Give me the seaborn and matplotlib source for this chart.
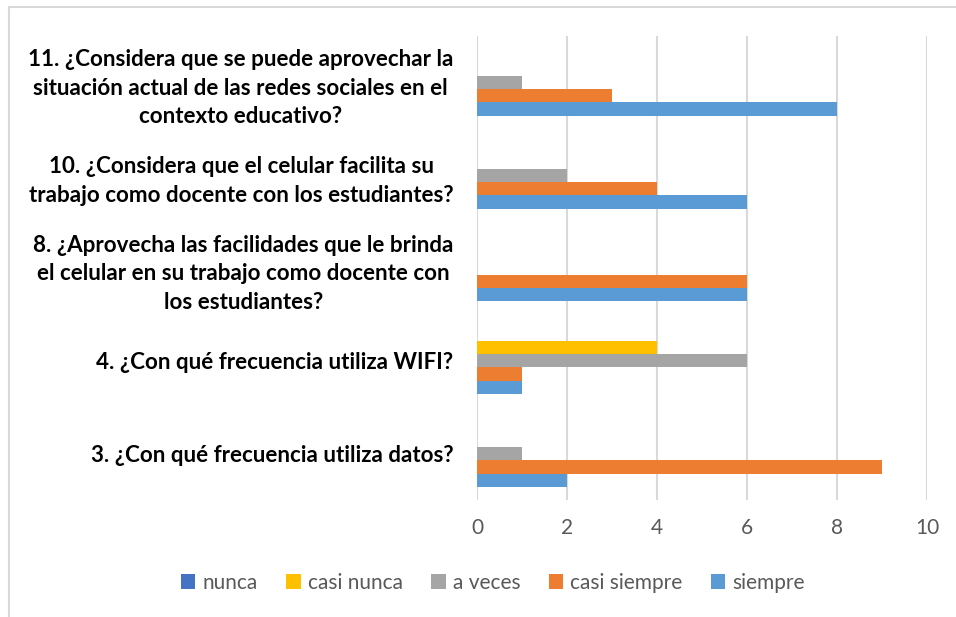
import matplotlib
matplotlib.use("Agg")
import matplotlib.pyplot as plt
import seaborn as sns
import pandas as pd
from matplotlib.patches import Rectangle, Patch

categories = [
    "11. ¿Considera que se puede aprovechar la\nsituación actual de las redes sociales en el\ncontexto educativo?",
    "10. ¿Considera que el celular facilita su\ntrabajo como docente con los estudiantes?",
    "8. ¿Aprovecha las facilidades que le brinda\nel celular en su trabajo como docente con\nlos estudiantes?",
    "4. ¿Con qué frecuencia utiliza WIFI?",
    "3. ¿Con qué frecuencia utiliza datos?",
]
series_names = ["nunca", "casi nunca", "a veces", "casi siempre", "siempre"]
nunca = [0, 0, 0, 0, 0]
casi_nunca = [0, 0, 0, 4, 0]
a_veces = [1, 2, 0, 6, 1]
casi_siempre = [3, 4, 6, 1, 9]
siempre = [8, 6, 6, 1, 2]
x_ticks = [0, 2, 4, 6, 8, 10]

colors = ["#4472C4", "#FFC000", "#A5A5A5", "#ED7D31", "#5B9BD5"]

rows = []
for name, vals in zip(series_names, [nunca, casi_nunca, a_veces, casi_siempre, siempre]):
    for cat, v in zip(categories, vals):
        rows.append({"pregunta": cat, "serie": name, "valor": v})
df = pd.DataFrame(rows)

sns.set_style("white")
plt.rcParams["font.family"] = ["Lato", "DejaVu Sans"]

fig = plt.figure(figsize=(9.56, 6.17), dpi=100)
ax = fig.add_axes([477 / 956, 1 - 500 / 617, 450 / 956, 464 / 617])

sns.barplot(data=df, y="pregunta", x="valor", hue="serie", order=categories,
            hue_order=series_names, palette=colors, orient="h", width=0.72,
            saturation=1, linewidth=0, ax=ax, legend=False, errorbar=None)

ax.set_xlim(0, 10)
ax.set_xticks(x_ticks)
ax.set_xticklabels([str(t) for t in x_ticks])
ax.grid(axis="x", color="#D9D9D9", linewidth=1.5)
ax.set_axisbelow(True)
for s in ax.spines.values():
    s.set_visible(False)
ax.set_xlabel("")
ax.set_ylabel("")
ax.tick_params(axis="x", length=0, pad=13, labelsize=15, labelcolor="#595959")
ax.tick_params(axis="y", length=0, pad=17)
for lbl in ax.get_yticklabels():
    lbl.set_fontweight("bold")
    lbl.set_fontsize(16.1)
    lbl.set_color("black")
    lbl.set_multialignment("center")
    lbl.set_linespacing(1.45)

handles = [Patch(facecolor=c, edgecolor="none") for c in colors]
fig.legend(handles, series_names, loc="center", bbox_to_anchor=(493 / 956, 1 - 583 / 617),
           ncol=5, frameon=False, fontsize=15, handlelength=0.7, handleheight=0.7,
           handletextpad=0.35, columnspacing=1.35, labelcolor="#595959")

fig.patches.append(Rectangle((9 / 956, -0.1), 1.2, 1.1 - 7 / 617 + 0.0, transform=fig.transFigure,
                             fill=False, edgecolor="#D9D9D9", linewidth=1.5))

fig.savefig("out.png", dpi=100)
